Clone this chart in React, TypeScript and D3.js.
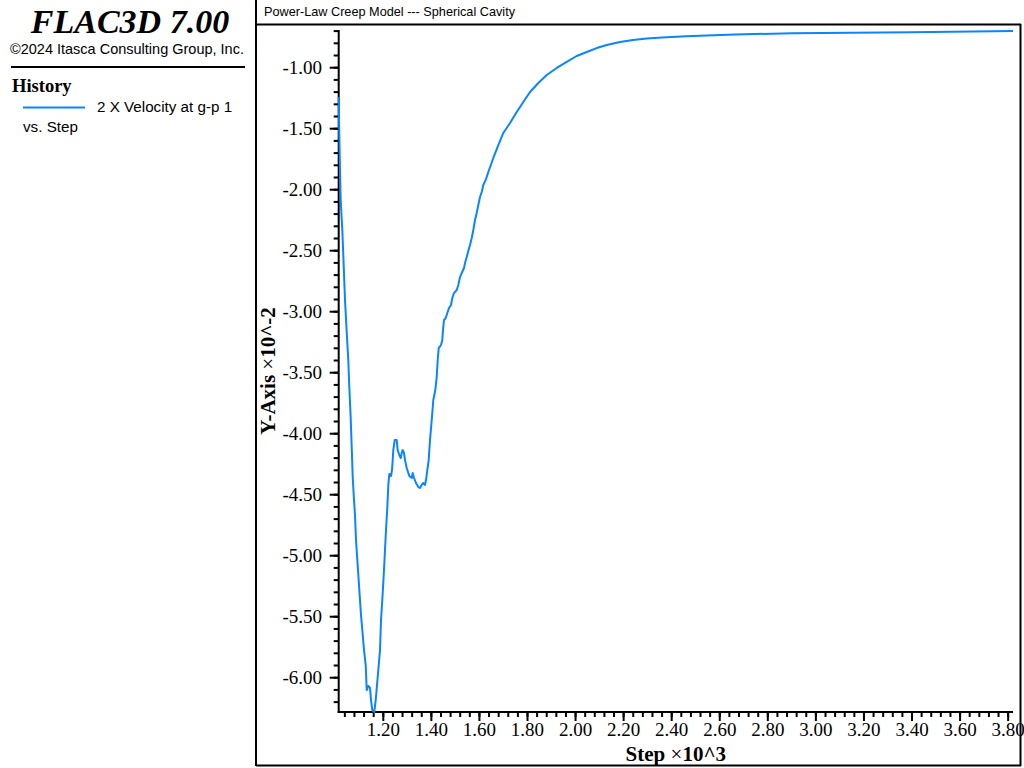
import React from "react";
import * as d3 from "d3";

// History: 2 X Velocity at g-p 1 vs. Step (steps ×10^3, velocity ×10^-2)
const steps: number[] = [
  1.0144, 1.0169, 1.0211, 1.0227, 1.0294, 1.0335, 1.0406, 1.0477, 1.0543, 1.0585,
  1.0643, 1.0685, 1.0727, 1.0781, 1.0822, 1.0864, 1.0947, 1.1030, 1.1072, 1.1126,
  1.1197, 1.1268, 1.1309, 1.1376, 1.1447, 1.1488, 1.1542, 1.1625, 1.1684, 1.1738,
  1.1792, 1.1863, 1.1904, 1.1958, 1.2029, 1.2112, 1.2141, 1.2166, 1.2208, 1.2250,
  1.2320, 1.2362, 1.2391, 1.2416, 1.2474, 1.2558, 1.2599, 1.2666, 1.2724, 1.2766,
  1.2807, 1.2861, 1.2903, 1.2974, 1.3028, 1.3082, 1.3182, 1.3223, 1.3278, 1.3361,
  1.3457, 1.3527, 1.3598, 1.3665, 1.3735, 1.3777, 1.3831, 1.3889, 1.3943, 1.4014,
  1.4081, 1.4164, 1.4222, 1.4264, 1.4305, 1.4401, 1.4455, 1.4484, 1.4526, 1.4597,
  1.4663, 1.4734, 1.4817, 1.4871, 1.4942, 1.5054, 1.5121, 1.5192, 1.5263, 1.5358,
  1.5400, 1.5471, 1.5537, 1.5608, 1.5679, 1.5745, 1.5816, 1.5887, 1.5953, 1.6024,
  1.6095, 1.6161, 1.6261, 1.6370, 1.6578, 1.6786, 1.6994, 1.7273, 1.7551, 1.7826,
  1.8105, 1.8450, 1.8800, 1.9216, 1.9632, 2.0048, 2.0464, 2.0880, 2.1297, 2.1850,
  2.2391, 2.2961, 2.3598, 2.4597, 2.6636, 2.9008, 3.3960, 3.8202,
];
const velocity: number[] = [
  -1.240, -1.552, -1.961, -2.084, -2.330, -2.535, -2.904, -3.166, -3.396, -3.617,
  -3.871, -4.109, -4.355, -4.543, -4.666, -4.871, -5.117, -5.363, -5.486, -5.609,
  -5.773, -5.896, -6.101, -6.068, -6.084, -6.183, -6.265, -6.281, -6.183, -6.060,
  -5.937, -5.773, -5.527, -5.363, -5.117, -4.789, -4.691, -4.609, -4.420, -4.330,
  -4.347, -4.298, -4.216, -4.134, -4.052, -4.052, -4.134, -4.175, -4.199, -4.158,
  -4.134, -4.158, -4.216, -4.281, -4.314, -4.347, -4.363, -4.322, -4.363, -4.404,
  -4.437, -4.445, -4.420, -4.404, -4.420, -4.380, -4.298, -4.216, -4.052, -3.888,
  -3.724, -3.642, -3.535, -3.396, -3.298, -3.273, -3.232, -3.150, -3.068, -3.052,
  -3.011, -2.970, -2.945, -2.888, -2.847, -2.822, -2.781, -2.716, -2.683, -2.642,
  -2.601, -2.552, -2.503, -2.453, -2.396, -2.330, -2.248, -2.191, -2.125, -2.060,
  -2.019, -1.961, -1.920, -1.855, -1.740, -1.634, -1.535, -1.453, -1.363, -1.281,
  -1.199, -1.125, -1.060, -1.002, -0.953, -0.904, -0.871, -0.839, -0.814, -0.789,
  -0.773, -0.760, -0.752, -0.742, -0.728, -0.717, -0.709, -0.700,
];

const xDomain: [number, number] = [1.0144, 3.8202];
const yDomain: [number, number] = [-6.281, -0.691];

const xTickValues: number[] = [1.2, 1.4, 1.6, 1.8, 2.0, 2.2, 2.4, 2.6, 2.8, 3.0, 3.2, 3.4, 3.6, 3.8];
const yTickValues: number[] = [-6.0, -5.5, -5.0, -4.5, -4.0, -3.5, -3.0, -2.5, -2.0, -1.5, -1.0];
const xMinorStep = 0.04;
const yMinorStep = 0.1;

const appTitle = "FLAC3D 7.00";
const copyright = "\u00A92024 Itasca Consulting Group, Inc.";
const legendHeader = "History";
const seriesName = "2 X Velocity at g-p 1";
const seriesVs = "vs. Step";
const plotTitle = "Power-Law Creep Model --- Spherical Cavity";

const BLUE = "#0a84ff";
const SERIF = "'Liberation Serif', 'Times New Roman', Times, serif";
const SANS = "'Liberation Sans', Arial, Helvetica, sans-serif";

export default function App() {
  const W = 1024;
  const H = 768;
  const left = 338.7;
  const right = 1013;
  const top = 30;
  const bottom = 712;

  const x = d3.scaleLinear().domain(xDomain).range([left, right]);
  const y = d3.scaleLinear().domain(yDomain).range([bottom, top]);

  const pts: [number, number][] = steps.map((s, i) => [s, velocity[i]]);
  const line = d3
    .line<[number, number]>()
    .x((d) => x(d[0]))
    .y((d) => y(d[1]));

  const xMinor = d3
    .range(Math.ceil(xDomain[0] / xMinorStep), Math.floor(xDomain[1] / xMinorStep) + 1)
    .map((i) => i * xMinorStep)
    .filter((v) => x(v) > left + 1.5 && x(v) < right - 1);
  const yMinor = d3
    .range(Math.ceil(yDomain[0] / yMinorStep), Math.floor(yDomain[1] / yMinorStep) + 1)
    .map((i) => i * yMinorStep)
    .filter((v) => y(v) < bottom - 1.5 && y(v) > top + 0.5);

  return (
    <svg
      width={W}
      height={H}
      style={{ position: "absolute", left: 0, top: 0, background: "#fff", display: "block" }}
    >
      <rect x={0} y={0} width={W} height={H} fill="#fff" />

      {/* Left panel */}
      <text
        x={130}
        y={33}
        textAnchor="middle"
        fontFamily={SERIF}
        fontStyle="italic"
        fontWeight="bold"
        fontSize={34}
      >
        {appTitle}
      </text>
      <text x={10} y={54} fontFamily={SANS} fontSize={14.5}>
        {copyright}
      </text>
      <line x1={11} x2={245} y1={67} y2={67} stroke="#000" strokeWidth={2} />
      <text x={12} y={92} fontFamily={SERIF} fontWeight="bold" fontSize={18.5}>
        {legendHeader}
      </text>
      <line x1={23} x2={85} y1={107.5} y2={107.5} stroke={BLUE} strokeWidth={2} />
      <text x={97} y={112} fontFamily={SANS} fontSize={15.2}>
        {seriesName}
      </text>
      <text x={23} y={132} fontFamily={SANS} fontSize={15.2}>
        {seriesVs}
      </text>

      {/* Plot panel frame */}
      <line x1={256} x2={256} y1={0} y2={766} stroke="#000" strokeWidth={2} />
      <line x1={256} x2={1021} y1={24.5} y2={24.5} stroke="#000" strokeWidth={2} />
      <line x1={1020.5} x2={1020.5} y1={24} y2={766} stroke="#000" strokeWidth={2} />
      <line x1={256} x2={1021} y1={765.5} y2={765.5} stroke="#000" strokeWidth={2} />
      <text x={264} y={16} fontFamily={SANS} fontSize={12.7}>
        {plotTitle}
      </text>

      {/* Axes */}
      <line x1={left} x2={left} y1={top} y2={bottom + 1} stroke="#000" strokeWidth={2} />
      <line x1={left - 1} x2={right} y1={bottom} y2={bottom} stroke="#000" strokeWidth={2} />

      {yMinor.map((v, i) => (
        <line key={"ym" + i} x1={left - 5} x2={left} y1={y(v)} y2={y(v)} stroke="#000" strokeWidth={2} />
      ))}
      {yTickValues.map((v, i) => (
        <g key={"yt" + i}>
          <line x1={left - 9} x2={left} y1={y(v)} y2={y(v)} stroke="#000" strokeWidth={2} />
          <text x={322} y={y(v) + 6} textAnchor="end" fontFamily={SERIF} fontSize={19}>
            {v.toFixed(2)}
          </text>
        </g>
      ))}

      {xMinor.map((v, i) => (
        <line key={"xm" + i} x1={x(v)} x2={x(v)} y1={bottom} y2={bottom + 5} stroke="#000" strokeWidth={2} />
      ))}
      {xTickValues.map((v, i) => (
        <g key={"xt" + i}>
          <line x1={x(v)} x2={x(v)} y1={bottom} y2={bottom + 9} stroke="#000" strokeWidth={2} />
          <text x={x(v)} y={736} textAnchor="middle" fontFamily={SERIF} fontSize={19}>
            {v.toFixed(2)}
          </text>
        </g>
      ))}

      {/* Axis titles */}
      <text x={(left + right) / 2} y={760.5} textAnchor="middle" fontFamily={SERIF} fontSize={21}>
        <tspan fontWeight="bold">Step </tspan>
        <tspan>{"\u00D7"}</tspan>
        <tspan fontWeight="bold">10^3</tspan>
      </text>
      <text
        transform={`translate(275, ${(top + bottom) / 2}) rotate(-90)`}
        textAnchor="middle"
        fontFamily={SERIF}
        fontSize={21}
      >
        <tspan fontWeight="bold">Y-Axis </tspan>
        <tspan>{"\u00D7"}</tspan>
        <tspan fontWeight="bold">10^-2</tspan>
      </text>

      {/* Series */}
      <path d={line(pts) || ""} fill="none" stroke={BLUE} strokeWidth={2} strokeLinejoin="round" />
    </svg>
  );
}
